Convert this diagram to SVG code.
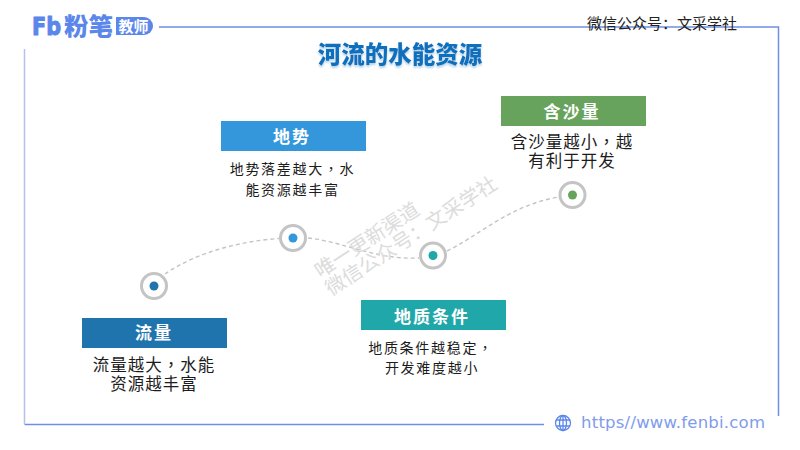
<svg xmlns="http://www.w3.org/2000/svg" width="800" height="450" viewBox="0 0 800 450">
<defs>
<style>
text{font-family:"Noto Sans CJK SC","Liberation Sans",sans-serif}
.frame{fill:none;stroke:#6f8fe6;stroke-width:1.5}
.head{font-size:17px;font-weight:700;fill:#fff;text-anchor:middle;letter-spacing:2px}
.body{font-family:"Noto Sans CJK TC","Noto Sans CJK SC",sans-serif;font-size:16.500px;fill:#1c1c1c;text-anchor:middle;letter-spacing:1px}
.small{font-family:"Noto Sans CJK TC","Noto Sans CJK SC",sans-serif;font-size:14px;fill:#1c1c1c;text-anchor:middle;letter-spacing:1.700px}
.ring{fill:#fff;stroke:#c4c4c4;stroke-width:3}
.link{fill:none;stroke:#c4c4c4;stroke-width:1.400;stroke-dasharray:4 3}
.wm{font-size:20px;fill:#dcdcdc;text-anchor:middle}
</style>
<filter id="sh" x="-5%" y="-20%" width="110%" height="150%"><feDropShadow dx="0" dy="2" stdDeviation="1" flood-color="#9cc4e4" flood-opacity=".8"/></filter>
</defs>
<rect width="800" height="450" fill="#fff"/>
<g id="frame">
<path class="frame" d="M159 27H778.500V416"/>
<path class="frame" d="M544 424.500H24.500"/>
<path class="frame" style="stroke:#b7c2ec" d="M24.500 424V49"/>
</g>
<g id="logo">
<text x="32" y="35" font-size="24" font-weight="700" fill="#5b86ea" stroke="#5b86ea" stroke-width="1" stroke-linejoin="round" style="font-family:'DejaVu Sans',sans-serif" textLength="29" lengthAdjust="spacingAndGlyphs">Fb</text>
<text x="64" y="34.500" font-size="24" font-weight="900" fill="#5b86ea" textLength="49" lengthAdjust="spacingAndGlyphs">粉笔</text>
<path d="M116 17H144a9 9 0 0 1 0 18H116Z" fill="#5b86ea"/>
<text x="118.500" y="32" font-size="15" font-weight="700" fill="#fff" textLength="30" lengthAdjust="spacingAndGlyphs">教师</text>
</g>
<text x="662" y="29" font-size="15" fill="#222" text-anchor="middle">微信公众号：文采学社</text>
<text x="400" y="63" font-size="23.500" font-weight="900" fill="#0d70bd" text-anchor="middle" filter="url(#sh)">河流的水能资源</text>
<g id="connectors">
<path class="link" d="M165 274C195 253 240 241 279 238.500"/>
<path class="link" d="M308 238C345 242 375 260 419 258"/>
<path class="link" d="M447 251C480 235 510 205 559 197"/>
</g>
<g id="node-flow">
<circle class="ring" cx="154" cy="286" r="12.500"/><circle cx="154" cy="286" r="4.500" fill="#1f74ae"/>
<rect x="82" y="318" width="145" height="30" fill="#1f74ae"/>
<text class="head" x="154" y="339">流量</text>
<text class="body" x="154" y="371">流量越大，水能</text>
<text class="body" x="154" y="390">资源越丰富</text>
</g>
<g id="node-terrain">
<circle class="ring" cx="293" cy="238" r="12.500"/><circle cx="293" cy="238" r="4.500" fill="#3497db"/>
<rect x="221" y="121" width="145" height="30" fill="#3497db"/>
<text class="head" x="292" y="143">地势</text>
<text class="small" x="292.500" y="174">地势落差越大，水</text>
<text class="small" x="292.500" y="194.500">能资源越丰富</text>
</g>
<g id="node-geology">
<circle class="ring" cx="433" cy="255.500" r="12.500"/><circle cx="433" cy="255.500" r="4.500" fill="#1fa7a9"/>
<rect x="361" y="300" width="145" height="30" fill="#1fa7a9"/>
<text class="head" x="432" y="322.500">地质条件</text>
<text class="small" x="431" y="353">地质条件越稳定，</text>
<text class="small" x="432" y="373">开发难度越小</text>
</g>
<g id="node-sediment">
<circle class="ring" cx="572.500" cy="195" r="12.500"/><circle cx="572.500" cy="195" r="4.500" fill="#67a35c"/>
<rect x="501" y="96" width="145" height="30" fill="#67a35c"/>
<text class="head" x="572" y="118">含沙量</text>
<text class="body" x="572" y="147.500">含沙量越小，越</text>
<text class="body" x="572" y="167">有利于开发</text>
</g>
<g id="watermark">
<text class="wm" transform="rotate(-33 367 240)" x="367" y="247">唯一更新渠道</text>
<text class="wm" transform="rotate(-33 411 236)" x="411" y="243">微信公众号：文采学社</text>
</g>
<g id="url">
<g fill="none" stroke="#5b86ea" stroke-width="1.300"><circle cx="563" cy="423" r="7.500"/><ellipse cx="563" cy="423" rx="3.500" ry="7.500"/><path d="M563 415.500V430.500M556 420H570M556 426H570"/></g>
<text x="581" y="428" font-size="16.500" fill="#7f9cec" style="font-family:'DejaVu Sans',sans-serif" textLength="184">https//www.fenbi.com</text>
</g>
</svg>
